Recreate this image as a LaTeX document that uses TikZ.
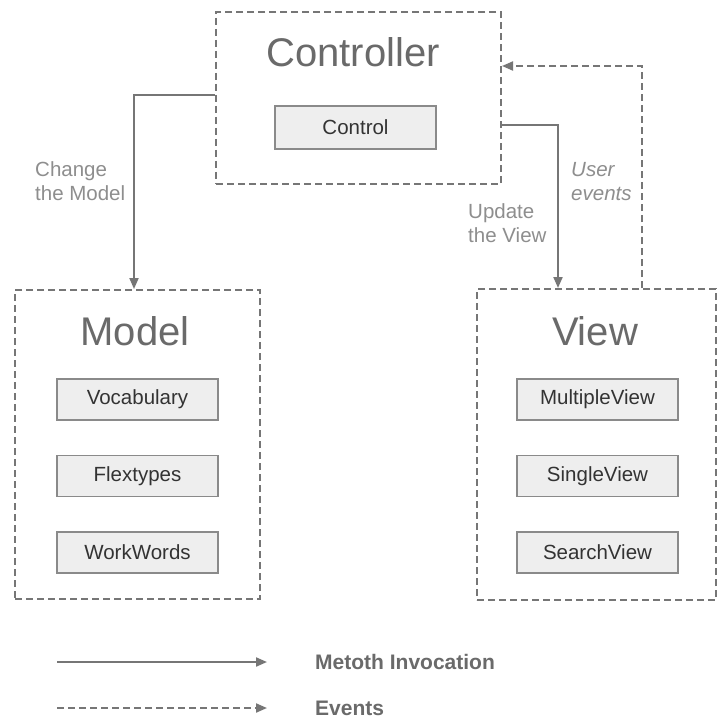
\documentclass[tikz,border=0pt]{standalone}
\usepackage{fontspec}
\setmainfont{Liberation Sans}
\usetikzlibrary{arrows.meta}
\definecolor{linegray}{HTML}{767676}
\definecolor{titlegray}{HTML}{6A6A6A}
\definecolor{labelgray}{HTML}{8E8E8E}
\definecolor{boxfill}{HTML}{EEEEEE}
\definecolor{boxedge}{HTML}{8A8A8A}
\definecolor{innertext}{HTML}{333333}
\tikzset{
  group/.style={draw=linegray, line width=2pt, dash pattern=on 7pt off 4pt, inner sep=0pt},
  part/.style={draw=boxedge, fill=boxfill, line width=1.6pt, minimum width=161pt,
    minimum height=41pt, inner sep=0pt, text=innertext, font=\fontsize{20.5}{24}\selectfont},
  title/.style={text=titlegray, font=\fontsize{40}{46}\selectfont, inner sep=0pt},
  note/.style={text=labelgray, align=left, anchor=west, inner sep=0pt,
    font=\fontsize{20.5}{24}\selectfont},
  legendtext/.style={text=titlegray, anchor=west, inner sep=0pt,
    font=\fontsize{21}{24}\selectfont\bfseries},
  call/.style={draw=linegray, line width=2pt, -{Triangle[length=11pt,width=9pt]}},
  event/.style={call, dash pattern=on 7pt off 4pt},
}
\begin{document}
\begin{tikzpicture}[x=1pt,y=-1pt]
  \useasboundingbox[fill=white] (0,0) rectangle (718,722);

  % Controller group
  \node[group, minimum width=285pt, minimum height=172pt] (ctrl) at (358.5,98) {};
  \node[title] (ctrltitle) at (353,52) {Controller};
  \node[part, minimum height=43pt] (control) at (355.5,127.5) {Control};

  % Model group
  \node[group, minimum width=245pt, minimum height=309pt] (model) at (137.5,444.5) {};
  \node[title] (modeltitle) at (135,331) {Model};
  \node[part] (vocab) at (137.5,399.5) {Vocabulary};
  \node[part] (flex) at (137.5,476) {Flextypes};
  \node[part] (work) at (137.5,552.5) {WorkWords};

  % View group
  \node[group, minimum width=239pt, minimum height=311pt] (view) at (596.5,444.5) {};
  \node[title] (viewtitle) at (595,331) {View};
  \node[part] (multi) at (597.5,399.5) {MultipleView};
  \node[part] (single) at (597.5,476) {SingleView};
  \node[part] (search) at (597.5,552.5) {SearchView};

  % Connectors between groups
  \draw[call] ([yshift=3pt]ctrl.west) -| ([xshift=-3.5pt]model.north);
  \draw[call] ([yshift=-27pt]ctrl.east) -| ([xshift=-38.5pt]view.north);
  \draw[event] ([xshift=45.5pt]view.north) |- ([yshift=32pt]ctrl.east);

  % Connector labels
  \node[note] (lblchange) at (35,181) {Change\\the Model};
  \node[note] (lblupdate) at (468,223.5) {Update\\the View};
  \node[note, font=\fontsize{20.5}{24}\selectfont\itshape] (lbluser) at (571,181.5) {User\\events};

  % Legend
  \coordinate (ls1) at (57,662);
  \coordinate (le1) at (267,662);
  \coordinate (ls2) at (57,708);
  \coordinate (le2) at (267,708);
  \draw[call] (ls1) -- (le1);
  \draw[event] (ls2) -- (le2);
  \node[legendtext] (legcall) at (315,662) {Metoth Invocation};
  \node[legendtext] (legevent) at (315,708) {Events};
\end{tikzpicture}
\end{document}
